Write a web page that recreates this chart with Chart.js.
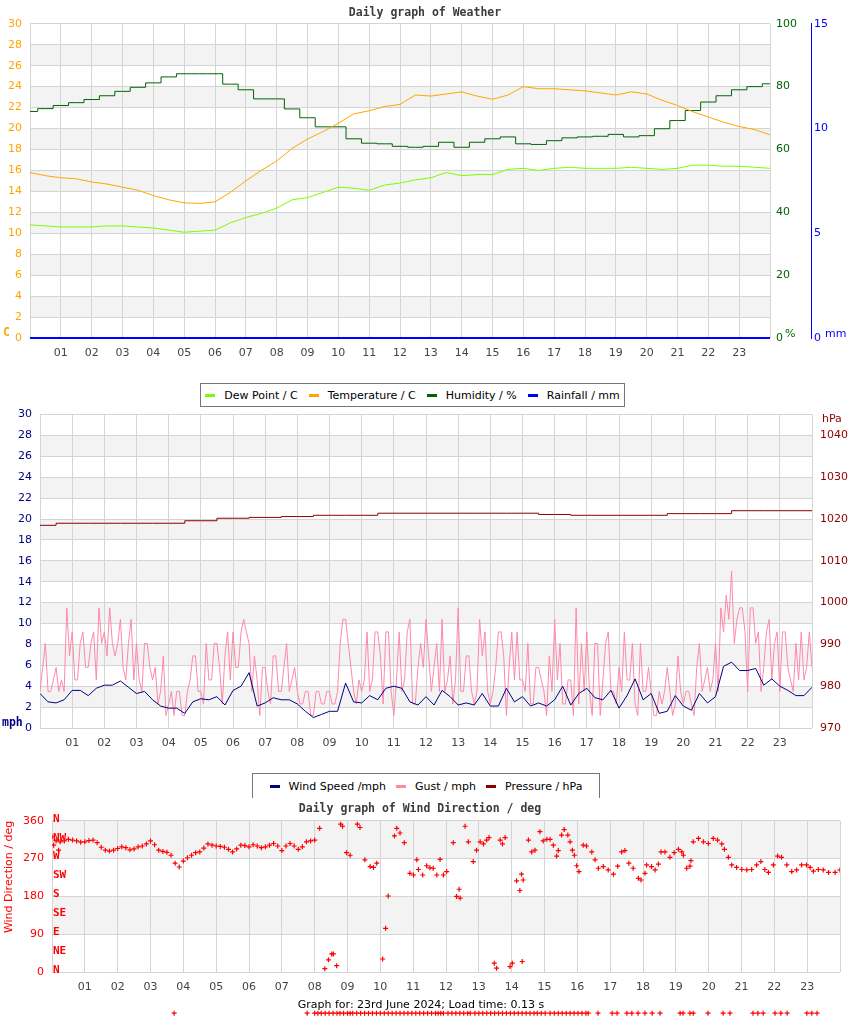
<!DOCTYPE html>
<html>
<head>
<meta charset="utf-8">
<title>Daily graphs</title>
<script src="https://cdn.jsdelivr.net/npm/chart.js@4.4.1/dist/chart.umd.min.js"></script>
<style>
  body { margin: 0; background: #fff; width: 850px; height: 1017px; position: relative; overflow: hidden; font-family: 'DejaVu Sans', sans-serif; }
  canvas { position: absolute; left: 0; }
  #weatherChart { top: 0; }
  #windChart { top: 400px; }
  #dirChart { top: 800px; }
  .legend { position: absolute; display: flex; justify-content: center; align-items: center; gap: 11px;
            border: 1px solid #777; background: #fff; font-size: 11px; color: #000; box-sizing: border-box; }
  .legend .key { display: inline-block; width: 10px; height: 3px; margin-right: 9px; vertical-align: middle; }
  #legend1 { left: 200px; top: 383px; width: 425px; height: 24px; }
  #legend2 { left: 252px; top: 773px; width: 348px; height: 25px; border-bottom: none; gap: 10px; }
  #footer { position: absolute; top: 998px; left: 0; width: 842px; text-align: center; font-size: 11px; color: #000; }
</style>
</head>
<body>
<canvas id="weatherChart" width="850" height="372"></canvas>
<canvas id="windChart" width="850" height="400"></canvas>
<canvas id="dirChart" width="850" height="217"></canvas>

<div class="legend" id="legend1">
  <span><span class="key" style="background:#7cfc00"></span>Dew Point / C</span>
  <span><span class="key" style="background:#ffa500"></span>Temperature / C</span>
  <span><span class="key" style="background:#006400"></span>Humidity / %</span>
  <span><span class="key" style="background:#0000ff"></span>Rainfall / mm</span>
</div>
<div class="legend" id="legend2">
  <span><span class="key" style="background:#000080"></span>Wind Speed /mph</span>
  <span><span class="key" style="background:#ff88aa"></span>Gust / mph</span>
  <span><span class="key" style="background:#8b0000"></span>Pressure / hPa</span>
</div>
<div id="footer">Graph for: 23rd June 2024; Load time: 0.13 s</div>

<script>
// ---- data ----
const hourLabels = ['01','02','03','04','05','06','07','08','09','10','11','12',
                    '13','14','15','16','17','18','19','20','21','22','23'];

// half-hourly, 00:00 .. 24:00
const temperature = [15.8,15.5,15.3,15.2,14.9,14.7,14.4,14.1,13.6,13.2,12.9,12.85,13.0,13.9,15.0,16.0,
  16.9,18.1,19.0,19.7,20.5,21.4,21.7,22.1,22.3,23.2,23.1,23.3,23.5,23.1,22.8,23.2,
  24.0,23.8,23.8,23.7,23.6,23.4,23.2,23.5,23.3,22.7,22.2,21.6,21.1,20.6,20.2,19.9,19.4];
const dewPoint = [10.8,10.7,10.6,10.6,10.6,10.7,10.7,10.6,10.5,10.3,10.1,10.2,10.3,11.0,11.5,11.9,
  12.4,13.2,13.4,13.9,14.4,14.3,14.1,14.6,14.8,15.1,15.3,15.8,15.5,15.6,15.6,16.1,
  16.2,16.0,16.2,16.3,16.2,16.2,16.2,16.3,16.2,16.1,16.2,16.5,16.5,16.4,16.4,16.3,16.2];
const humidity = [72.1,73.0,74.0,74.9,75.9,77.1,78.5,79.8,81.2,83.1,84.1,84.1,84.1,80.8,79.0,76.1,
  76.1,72.9,70.1,67.2,67.2,63.4,62.0,61.8,61.0,60.7,61.0,62.3,60.7,62.3,63.4,64.0,
  61.8,61.6,62.8,63.7,64.0,64.2,64.8,64.0,64.4,66.6,69.2,72.4,75.1,77.1,79.0,80.0,80.9];
// hourly
const rainfall = [0,0,0,0,0,0,0,0,0,0,0,0,0,0,0,0,0,0,0,0,0,0,0,0,0];

// quarter-hourly
const windSpeed = [3.3,2.5,2.4,2.7, 3.6,3.6,3.1,3.8, 4.1,4.1,4.5,3.9, 3.3,3.5,2.7,2.1,
  1.9,1.9,1.4,2.5, 2.8,2.7,3.0,2.2, 3.6,4.0,5.3,2.1, 2.4,2.9,2.7,2.7,
  2.3,1.6,1.0,1.3, 1.6,1.6,4.3,2.5, 2.4,3.1,2.7,3.8, 4.0,3.8,2.5,2.2,
  3.0,2.2,3.6,3.0, 2.2,2.4,2.2,3.3, 2.1,2.1,3.8,2.5, 3.0,2.1,2.4,2.1,
  2.7,4.0,2.2,3.3, 3.8,2.9,2.7,3.6, 1.9,3.1,4.7,2.7, 3.3,1.4,1.6,3.1,
  2.1,1.7,3.3,2.4, 3.0,5.9,6.3,5.5, 5.5,5.7,4.1,4.7, 4.0,3.6,3.1,3.1, 3.9];
// every 5 minutes
const gust = [
  3.5,5.8,8.1,3.5,3.5,4.6,5.8,3.5,4.6,3.5,11.5,6.9,
  9.2,4.6,4.6,8.1,9.2,5.8,5.8,8.1,9.2,4.6,11.5,8.1,
  9.2,6.9,11.5,8.1,6.9,8.1,10.4,5.8,4.6,8.1,10.4,4.6,
  8.1,4.6,3.5,8.1,8.1,5.8,4.6,5.8,2.3,3.5,6.9,1.2,
  2.3,3.5,1.2,3.5,3.5,1.2,1.2,3.5,4.6,6.9,6.9,3.5,
  3.5,2.3,8.1,4.6,4.6,8.1,8.1,5.8,2.3,6.9,9.2,4.6,
  9.2,5.8,5.8,9.2,10.4,9.2,8.1,3.5,6.9,4.6,1.2,5.8,
  5.8,3.5,2.3,6.9,6.9,3.5,3.5,5.8,8.1,3.5,4.6,5.8,
  3.5,2.3,2.3,3.5,3.5,1.2,1.2,3.5,3.5,2.3,2.3,3.5,
  3.5,2.3,2.3,3.5,8.1,10.4,10.4,8.1,5.8,3.5,2.3,4.6,
  3.5,4.6,9.2,3.5,4.6,9.2,9.2,6.9,2.3,9.2,9.2,3.5,
  1.2,4.6,9.2,3.5,4.6,9.2,10.4,2.3,2.3,5.8,8.1,5.8,
  10.4,6.9,3.5,5.8,8.1,3.5,10.4,3.5,4.6,6.9,2.3,4.6,
  11.5,3.5,3.5,6.9,6.9,3.5,2.3,3.5,10.4,6.9,9.2,3.5,
  2.3,3.5,5.8,9.2,9.2,6.9,1.2,5.8,9.2,4.6,9.2,4.6,
  4.6,3.5,8.1,2.3,2.3,5.8,5.8,4.6,3.5,1.2,6.9,3.5,
  10.4,4.6,8.1,2.3,2.3,4.6,4.6,1.2,11.5,2.3,8.1,3.5,
  9.2,3.5,1.2,8.1,8.1,1.2,4.6,8.1,9.2,3.5,3.5,2.3,
  5.8,3.5,9.2,4.6,4.6,8.1,2.3,1.2,8.1,3.5,3.5,5.8,
  3.5,1.2,1.2,3.5,2.3,3.5,5.8,3.5,1.2,2.3,6.9,3.5,
  2.3,3.5,3.5,2.3,1.2,5.8,8.1,3.5,4.6,5.8,3.5,4.6,
  8.1,3.5,11.5,9.2,12.7,10.4,15.0,8.1,10.4,11.5,11.5,9.2,
  3.5,11.5,11.5,8.1,9.2,3.5,5.8,9.2,10.4,4.6,8.1,9.2,
  3.5,9.2,9.2,5.8,4.6,3.5,8.1,4.6,9.2,4.6,5.8,9.2,
  5.8];
// hourly
const pressure = [1018.5,1019.0,1019.0,1019.0,1019.0,1019.6,1020.2,1020.4,1020.6,1020.9,1020.9,1021.4,
  1021.4,1021.4,1021.4,1021.4,1021.1,1020.9,1020.9,1020.9,1021.3,1021.3,1022.0,1022.0,1022.0];

// wind direction readings: hour of day and degrees
const dirHours = [0,0.05,0.125,0.2,0.25,0.375,0.5,0.625,0.75,0.875,1,1.125,1.25,1.375,1.5,1.625,1.75,1.875,
  2,2.125,2.25,2.375,2.5,2.625,2.75,2.875,3,3.125,3.25,3.375,3.5,3.625,3.75,3.875,
  4,4.125,4.25,4.375,4.5,4.625,4.75,4.875,5,5.125,5.25,5.375,5.5,5.625,5.75,5.875,
  6,6.125,6.25,6.375,6.5,6.625,6.75,6.875,7,7.125,7.25,7.375,7.5,7.625,7.75,7.875,8,8.15,
  8.31,8.42,8.52,8.57,8.67,8.79,8.85,8.97,9.08,9.30,9.38,9.53,9.69,9.79,9.89,
  10.07,10.16,10.24,10.43,10.50,10.60,10.73,10.90,11.01,11.11,11.16,11.29,
  11.41,11.51,11.61,11.72,11.82,11.92,12.02,12.22,12.32,12.40,12.43,12.58,12.68,12.83,12.93,
  13.04,13.14,13.24,13.31,13.47,13.54,13.65,13.72,13.80,13.95,14.02,14.15,14.25,14.30,14.32,14.35,
  14.51,14.61,14.71,14.86,14.96,15.07,15.17,15.27,15.37,15.42,15.52,15.60,15.71,15.78,15.85,15.91,15.98,
  16.05,16.18,16.28,16.44,16.54,16.64,16.79,16.94,17.10,17.23,17.35,17.45,17.57,17.70,17.86,17.94,
  18.06,18.11,18.26,18.37,18.47,18.55,18.67,18.82,18.95,19.08,19.18,19.23,19.33,19.43,19.46,
  19.53,19.69,19.84,19.99,20.14,20.27,20.40,20.48,20.60,20.70,20.85,21.01,21.16,21.31,21.46,21.59,
  21.71,21.82,21.97,22.10,22.22,22.38,22.53,22.68,22.83,22.98,23.09,23.19,23.34,23.49,23.65,23.85,24.0];
const dirDeg = [322,302,312,290,310,312,316,314,312,309,310,313,314,308,297,290,288,290,
  294,298,296,291,293,298,300,305,312,303,290,287,285,278,259,250,
  264,272,278,284,286,295,305,302,300,299,297,292,286,293,302,301,
  298,303,300,296,298,302,306,300,289,300,306,300,292,298,310,312,314,342,
  8,29,43,43,15,352,347,284,278,352,344,267,251,249,259,
  31,104,181,324,342,331,308,235,231,267,244,231,
  253,248,247,231,268,231,239,308,180,197,176,347,310,263,290,
  310,305,314,320,21,9,314,305,320,13,21,217,194,233,25,219,
  314,286,290,334,312,316,316,302,276,289,326,339,326,310,290,278,253,
  239,302,300,286,267,247,251,243,233,252,286,289,259,247,223,219,
  235,255,251,243,257,286,286,273,284,292,286,278,247,252,265,
  310,318,310,306,318,314,305,292,273,255,249,244,243,244,255,263,
  244,237,255,276,273,255,239,243,255,255,249,240,244,243,237,237,243];
// calm readings, plotted below the axis
const calmDeg = -98;
const calmHours = [3.72,7.77,8.0,8.1,8.2,8.32,8.44,8.56,8.68,8.77,8.88,9.0,9.08,9.16,9.28,9.4,9.52,9.64,
  9.76,9.88,10.0,10.12,10.24,10.36,10.48,10.6,10.72,10.84,10.96,11.08,11.2,11.32,11.44,11.56,11.68,
  11.76,11.84,11.92,12.06,12.18,12.3,12.42,12.54,12.66,12.74,12.88,13.0,13.12,13.24,13.36,13.48,13.6,
  13.72,13.84,13.96,14.08,14.2,14.32,14.44,14.56,14.68,14.78,14.9,15.02,15.17,15.3,15.42,15.54,15.66,
  15.78,15.9,16.02,16.14,16.26,16.33,16.63,17.06,17.21,17.51,17.66,17.85,18.06,18.28,18.52,
  19.13,19.22,19.43,19.53,19.98,20.44,20.65,21.35,21.5,21.66,22.02,22.2,22.39,22.99,23.14,23.3];
const compass = ['N','NE','E','SE','S','SW','W','NW','N'];

// ---- helpers ----
Chart.defaults.font.family = "'DejaVu Sans', sans-serif";
Chart.defaults.font.size = 11;
Chart.defaults.animation = false;
Chart.defaults.responsive = false;
Chart.defaults.devicePixelRatio = 1;
Chart.defaults.plugins.legend.display = false;
Chart.defaults.plugins.tooltip.enabled = false;
Chart.defaults.elements.point.radius = 0;
Chart.defaults.elements.line.borderWidth = 1;
Chart.defaults.elements.line.tension = 0;

const GRID = '#d4d4d4';
const BAND = '#f3f3f3';
const MONO = "'DejaVu Sans Mono', monospace";

function series(values) {
  const step = 24 / (values.length - 1);
  return values.map((v, i) => ({ x: i * step, y: v }));
}

function hourAxis() {
  return {
    type: 'linear', min: 0, max: 24,
    ticks: { stepSize: 1, autoSkip: false, maxRotation: 0, color: '#444', padding: 9,
             callback: v => hourLabels[v - 1] || '' },
    grid: { color: GRID, drawTicks: false },
    border: { display: false },
    afterFit: s => { s.height = 24; }
  };
}

// alternate shaded rows between the y ticks
function bands(axisId) {
  return {
    id: 'bands',
    beforeDraw(chart) {
      const s = chart.scales[axisId], a = chart.chartArea, ctx = chart.ctx;
      ctx.save();
      ctx.fillStyle = BAND;
      for (let i = 1; i < s.ticks.length - 1; i += 2) {
        const y1 = s.getPixelForValue(s.ticks[i].value);
        const y2 = s.getPixelForValue(s.ticks[i + 1].value);
        ctx.fillRect(a.left, y2, a.right - a.left, y1 - y2);
      }
      ctx.restore();
    }
  };
}

// unit captions next to the axes
function notes(items) {
  return {
    id: 'notes',
    afterDraw(chart) {
      const ctx = chart.ctx;
      ctx.save();
      ctx.textBaseline = 'middle';
      items.forEach(n => {
        const p = n.at(chart);
        ctx.font = n.font;
        ctx.fillStyle = n.color;
        ctx.textAlign = 'left';
        ctx.fillText(n.text, p[0], p[1]);
      });
      ctx.restore();
    }
  };
}

// ---- weather chart ----
new Chart(document.getElementById('weatherChart'), {
  type: 'line',
  data: {
    datasets: [
      { label: 'Dew Point / C', data: series(dewPoint), borderColor: '#7cfc00', yAxisID: 'y' },
      { label: 'Temperature / C', data: series(temperature), borderColor: '#ffa500', yAxisID: 'y' },
      { label: 'Humidity / %', data: series(humidity), borderColor: '#006400', yAxisID: 'yH', stepped: 'middle' },
      { label: 'Rainfall / mm', data: series(rainfall), borderColor: '#0000ff', borderWidth: 2, yAxisID: 'yR', clip: 3 }
    ]
  },
  options: {
    layout: { padding: { bottom: 10 } },
    plugins: {
      title: { display: true, text: 'Daily graph of Weather', color: '#3c3c3c',
               font: { family: MONO, size: 11.5, weight: 'bold' }, padding: { top: 6, bottom: 4 } }
    },
    scales: {
      x: hourAxis(),
      y: { position: 'left', min: 0, max: 30,
           ticks: { stepSize: 2, color: '#ffa500', padding: 8 },
           grid: { color: GRID, drawTicks: false }, border: { display: false },
           afterFit: s => { s.width = 30; } },
      yH: { position: 'right', min: 0, max: 100, weight: 0,
            ticks: { stepSize: 20, color: '#006400', padding: 6 },
            grid: { display: false, drawTicks: false }, border: { display: false },
            afterFit: s => { s.width = 41; } },
      yR: { position: 'right', min: 0, max: 15, weight: 1,
            ticks: { stepSize: 5, color: '#0000ff', padding: 3 },
            grid: { display: false, drawTicks: false }, border: { display: true, color: '#0000ff' },
            afterFit: s => { s.width = 39; } }
    }
  },
  plugins: [bands('y'), notes([
    { text: 'C', color: '#ffa500', font: 'bold 11.5px ' + MONO, at: c => [3, c.chartArea.bottom - 5] },
    { text: '%', color: '#006400', font: '11px DejaVu Sans', at: c => [c.scales.yH.left + 15, c.chartArea.bottom - 4] },
    { text: 'mm', color: '#0000ff', font: '11px DejaVu Sans', at: c => [c.scales.yR.left + 14, c.chartArea.bottom - 4] }
  ])]
});

// ---- wind speed / pressure chart ----
new Chart(document.getElementById('windChart'), {
  type: 'line',
  data: {
    datasets: [
      { label: 'Wind Speed /mph', data: series(windSpeed), borderColor: '#000080', yAxisID: 'y' },
      { label: 'Gust / mph', data: series(gust), borderColor: '#ff88aa', yAxisID: 'y' },
      { label: 'Pressure / hPa', data: series(pressure), borderColor: '#8b0000', yAxisID: 'yP', stepped: 'middle' }
    ]
  },
  options: {
    layout: { padding: { top: 13, bottom: 48 } },
    scales: {
      x: hourAxis(),
      y: { position: 'left', min: 0, max: 30,
           ticks: { stepSize: 2, color: '#000080', padding: 8 },
           grid: { color: GRID, drawTicks: false }, border: { display: false },
           afterFit: s => { s.width = 40; } },
      yP: { position: 'right', min: 970, max: 1045,
            ticks: { stepSize: 10, includeBounds: false, color: '#8b0000', padding: 8,
                     callback: v => String(v) },
            grid: { display: false, drawTicks: false }, border: { display: false },
            afterFit: s => { s.width = 38; } }
    }
  },
  plugins: [bands('y'), notes([
    { text: 'mph', color: '#000080', font: 'bold 11.5px ' + MONO, at: c => [2, c.chartArea.bottom - 5] },
    { text: 'hPa', color: '#8b0000', font: '11px DejaVu Sans', at: c => [c.scales.yP.left + 10, c.chartArea.top + 5] }
  ])]
});

// ---- wind direction chart ----
function cross(ctx, x, y, r) {
  ctx.beginPath();
  ctx.moveTo(x - r, y); ctx.lineTo(x + r, y);
  ctx.moveTo(x, y - r); ctx.lineTo(x, y + r);
  ctx.stroke();
}

const compassLabels = {
  id: 'compass',
  beforeDatasetsDraw(chart) {
    const s = chart.scales.y, ctx = chart.ctx;
    ctx.save();
    ctx.font = 'bold 11px ' + MONO;
    ctx.fillStyle = '#ff0000';
    ctx.textBaseline = 'middle';
    compass.forEach((t, i) => {
      ctx.fillText(t, chart.chartArea.left + 1, s.getPixelForValue(i * 45) - 2);
    });
    ctx.restore();
  }
};

// calm readings sit outside the plot area, so mark them here
const calmMarks = {
  id: 'calm',
  afterDatasetsDraw(chart) {
    const ctx = chart.ctx, xs = chart.scales.x, ys = chart.scales.y;
    ctx.save();
    ctx.strokeStyle = '#ff0000';
    ctx.lineWidth = 1.2;
    calmHours.forEach(h => cross(ctx, xs.getPixelForValue(h), ys.getPixelForValue(calmDeg), 2.5));
    ctx.restore();
  }
};

new Chart(document.getElementById('dirChart'), {
  type: 'scatter',
  data: {
    datasets: [
      { label: 'Wind Direction', data: dirHours.map((h, i) => ({ x: h, y: dirDeg[i] })) }
    ]
  },
  options: {
    layout: { padding: { right: 10, bottom: 21 } },
    elements: { point: { pointStyle: 'cross', radius: 2.5, borderWidth: 1.2, borderColor: '#ff0000', backgroundColor: '#ff0000' } },
    plugins: {
      title: { display: true, text: 'Daily graph of Wind Direction / deg', color: '#3c3c3c',
               font: { family: MONO, size: 11.5, weight: 'bold' }, padding: { top: 2, bottom: 5 } }
    },
    scales: {
      x: hourAxis(),
      y: { position: 'left', min: 0, max: 360,
           ticks: { stepSize: 90, color: '#ff0000', padding: 8 },
           grid: { color: GRID, drawTicks: false }, border: { display: false },
           title: { display: true, text: 'Wind Direction / deg', color: '#ff0000', align: 'end',
                    font: { size: 11 }, padding: { top: 3, bottom: 0 } },
           afterFit: s => { s.width = 52; } }
    }
  },
  plugins: [bands('y'), compassLabels, calmMarks]
});
</script>
</body>
</html>
